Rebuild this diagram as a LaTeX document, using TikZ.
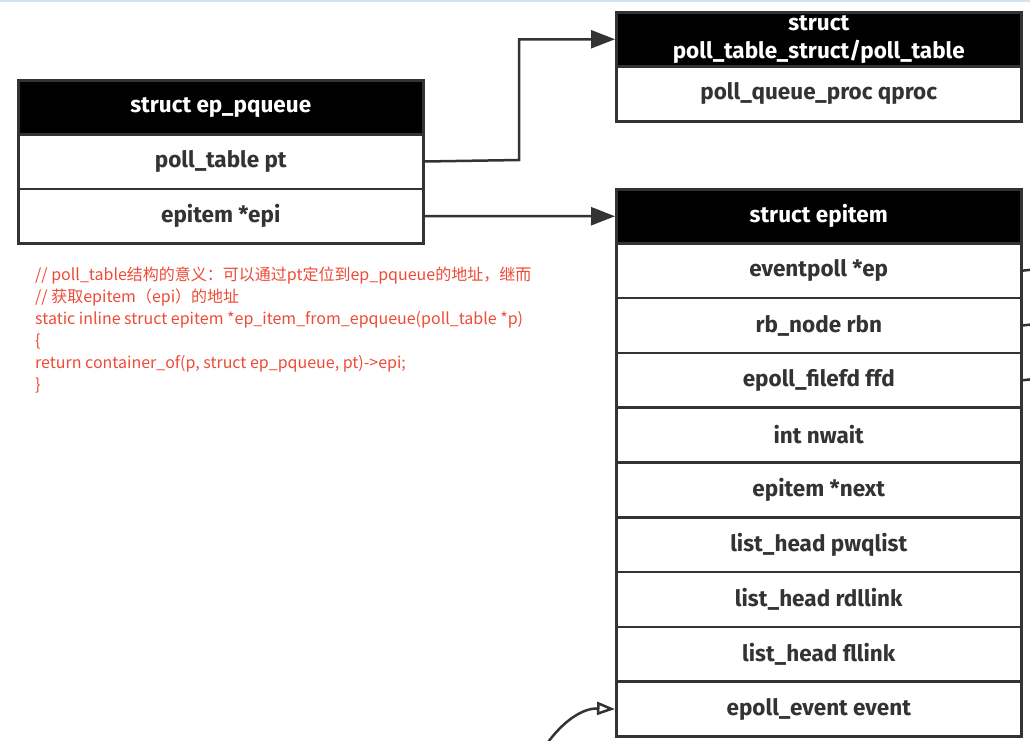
\documentclass[tikz,border=0pt]{standalone}
\usepackage{fontspec}
\setmainfont{Fira Sans}
\newfontfamily\cjk{Noto Sans CJK SC}
\usetikzlibrary{arrows.meta}
\definecolor{ink}{HTML}{333333}
\definecolor{codered}{HTML}{EE4B37}
\definecolor{topline}{HTML}{D6E3EE}
\tikzset{
  boxbase/.style={draw=ink, line width=2.5pt, minimum width=405pt, inner sep=0pt,
    align=center, anchor=north west, font=\bfseries\fontsize{22.5}{26}\selectfont},
  hdr/.style={boxbase, fill=black, text=white},
  fld/.style={boxbase, fill=white, text=ink},
  conn/.style={draw=ink, line width=2.5pt},
  solidtip/.style={-{Triangle[length=24pt,width=18pt]}},
  opentip/.style={-{Triangle[open,length=18pt,width=13pt,line width=2.5pt]}}
}
\begin{document}
\begin{tikzpicture}[x=1pt,y=-1pt]
\useasboundingbox (0,0) rectangle (1030,740);
\fill[white] (0,0) rectangle (1030,740);
\draw[topline, line width=1.5pt] (0,0.75) -- (1030,0.75);

% ep_pqueue
\node[hdr, minimum height=54pt] (pqh) at (17,79) {struct ep\_pqueue};
\node[fld, minimum height=54.5pt] (pt) at (17,133) {poll\_table pt};
\node[fld, minimum height=54.5pt] (epi) at (17,187.5) {epitem *epi};

% poll_table
\node[hdr, minimum height=54pt] (pth) at (615,11) {struct\\[2pt]poll\_table\_struct/poll\_table};
\node[fld, minimum height=55pt] (qproc) at (615,65) {poll\_queue\_proc qproc};

% epitem
\node[hdr, minimum height=54pt] (eih) at (615,188) {struct epitem};
\node[fld, minimum height=54.8pt] (e1) at (615,242) {eventpoll *ep};
\node[fld, minimum height=54.8pt] (e2) at (615,296.8) {rb\_node rbn};
\node[fld, minimum height=54.8pt] (e3) at (615,351.6) {epoll\_filefd ffd};
\node[fld, minimum height=54.8pt] (e4) at (615,406.4) {int nwait};
\node[fld, minimum height=54.8pt] (e5) at (615,461.2) {epitem *next};
\node[fld, minimum height=54.8pt] (e6) at (615,516) {list\_head pwqlist};
\node[fld, minimum height=54.8pt] (e7) at (615,570.8) {list\_head rdllink};
\node[fld, minimum height=54.8pt] (e8) at (615,625.6) {list\_head fllink};
\node[fld, minimum height=54.8pt] (e9) at (615,680.4) {epoll\_event event};

% connectors
\draw[conn, solidtip] (pt.east) -- (519,160) |- (pth.west);
\draw[conn, solidtip] (epi.east) -- (eih.west);

\coordinate (r1) at (1034,269.4);
\coordinate (r2) at (1034,324.2);
\coordinate (r3) at (1034,379);
\draw[conn] (e1.east) -- (r1);
\draw[conn] (e2.east) -- (r2);
\draw[conn] (e3.east) -- (r3);

\coordinate (bstart) at (546,745);
\draw[conn, opentip] (bstart) .. controls (565,718) and (585,708) .. (e9.west);

% code comment
\node[anchor=north west, align=left, text=codered, inner sep=0pt,
      font=\cjk\fontsize{16}{22}\selectfont] (code) at (35,267)
{// poll\_table结构的意义：可以通过pt定位到ep\_pqueue的地址，继而\\
// 获取epitem（epi）的地址\\
static inline struct epitem *ep\_item\_from\_epqueue(poll\_table *p)\\
\{\\
return container\_of(p, struct ep\_pqueue, pt)->epi;\\
\}};
\end{tikzpicture}
\end{document}
